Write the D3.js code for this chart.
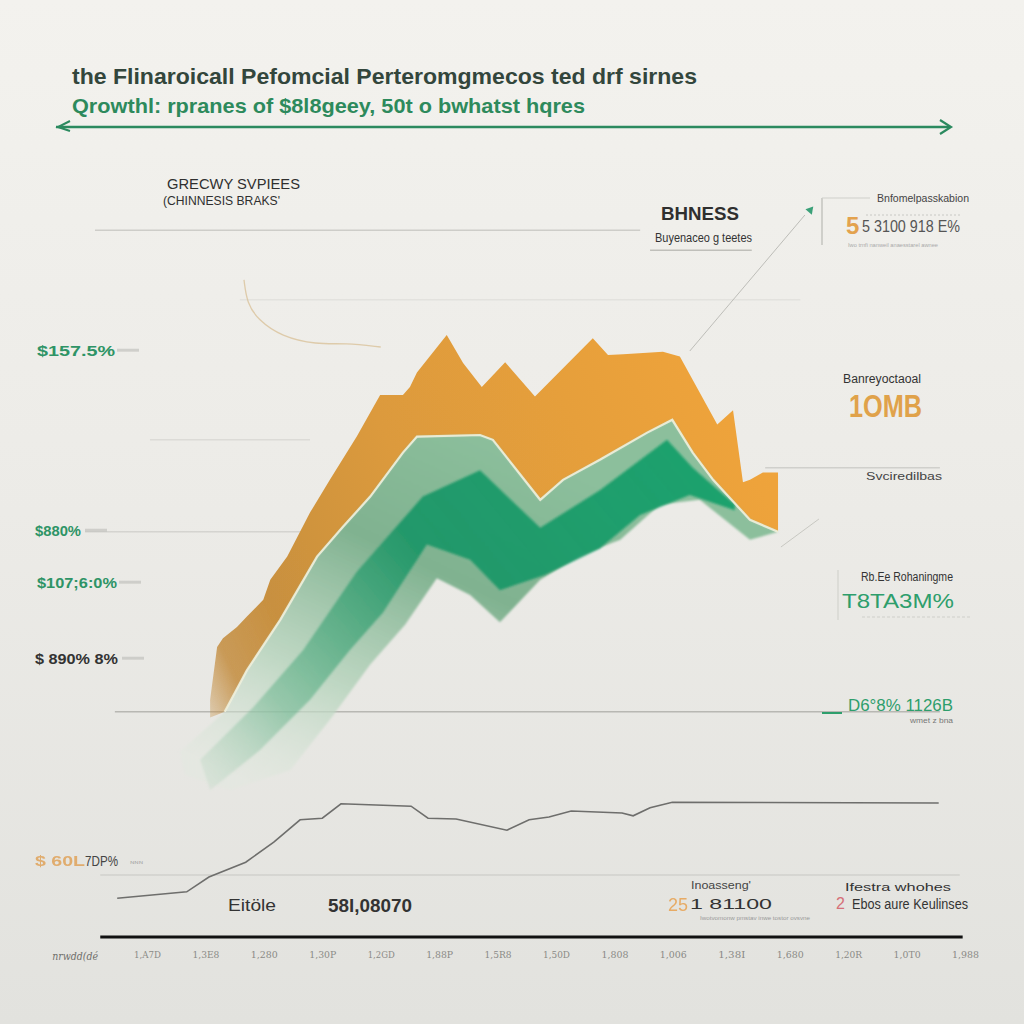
<!DOCTYPE html>
<html><head><meta charset="utf-8">
<script src="https://cdn.jsdelivr.net/npm/d3@7"></script>
<style>html,body{margin:0;padding:0;background:#eeede9;}svg{display:block;}</style>
</head><body>
<svg id="c" width="1024" height="1024"></svg>
<script>
// ---------- data (x: period units 0..140, y: value units 0..100) ----------
const xTickValues = [0,10,20,30,40,50,60,70,80,90,100,110,120,130,140];
const xTickLabels = ["1,A7D","1,3E8","1,280","1,30P","1,2GD","1,88P","1,5R8","1,50D","1,808","1,006","1,38I","1,680","1,20R","1,0T0","1,988"];

const orangeTop = [[10.8,29.4],[12.0,36.0],[13.0,37.1],[15.4,38.5],[17.1,39.8],[19.9,41.9],[21.1,44.4],[24.0,47.3],[27.9,52.8],[31.3,56.9],[35.9,62.3],[39.9,67.5],[43.8,67.5],[45.0,68.5],[46.2,70.3],[51.3,75.0],[54.1,71.5],[57.3,68.5],[61.3,71.6],[66.4,67.3],[76.3,74.6],[78.9,72.5],[81.5,72.6],[88.3,72.9],[91.2,72.3],[97.6,63.8],[100.3,65.6],[102.0,56.6],[103.2,56.9],[105.4,57.8],[108.0,57.8],[108.0,50.6]];
const greenTop = [[5.6,22.9],[13.3,27.9],[17.1,33.1],[22.8,39.4],[29.1,47.3],[33.5,51.0],[38.2,54.8],[43.8,60.3],[46.2,62.3],[57.0,62.5],[59.2,61.9],[67.3,54.4],[71.2,56.9],[77.5,59.4],[85.6,62.8],[89.9,64.4],[93.4,60.3],[96.9,56.9],[103.2,51.9],[108.0,50.4]];
const orangeBase = [[10.8,27.2]];
const greenBottom = [[6.5,20.0],[14.2,18.1],[24.5,20.6],[31.3,26.9],[38.2,33.8],[44.2,38.8],[49.6,44.6],[55.3,42.5],[60.4,39.1],[67.3,44.4],[74.1,47.5],[81.0,49.4],[87.8,53.8],[94.6,54.4],[103.2,49.4]];
const stripeTop = [[9.1,21.9],[18.1,28.4],[26.7,35.6],[35.9,45.4],[47.2,54.8],[57.0,58.1],[67.3,50.9],[77.5,55.6],[89.0,61.9],[93.4,58.4],[100.6,53.8]];
const stripeBottom = [[100.6,53.1],[92.9,55.0],[84.4,52.5],[77.5,48.3],[68.1,45.0],[60.4,43.1],[55.3,46.9],[47.9,48.8],[40.4,40.3],[34.7,35.6],[27.9,29.4],[19.3,23.1],[10.8,18.1]];
const grayLine = [[-5.1,4.6],[6.8,5.4],[10.6,7.25],[16.9,9.1],[21.7,11.6],[26.2,14.4],[30.0,14.6],[33.2,16.4],[45.2,16.1],[48.1,14.6],[52.9,14.5],[61.6,13.1],[65.4,14.4],[68.8,14.75],[72.6,15.5],[81.3,15.25],[83.2,14.9],[86.1,15.9],[89.9,16.6],[135.5,16.5]];
const squiggle = [[16.6,81.9],[17.1,79.0],[19.0,76.9],[23.0,74.8],[29.0,73.8],[34.0,74.0],[40.0,73.5]];
const pointerLine = [[92.9,73.0],[112.6,90.0]];

// grid lines: [value, fromX, toX, strength]
const gridLines = [[88.1,-8.9,84.4,0.35],[85.6,86.1,103.5,0.5],[79.4,15.9,111.8,0.12],[61.9,0.5,27.9,0.18],[50.4,-10.6,60.4,0.25],[58.4,105.8,135.7,0.3],[27.9,-5.5,135.7,0.55],[7.5,-8.0,139.1,0.22]];

// left value labels
const leftLabels = ["$157.5%","$880%","$107;6:0%","$ 890% 8%"];
const leftValues = [73.1,50.6,44.1,34.6];
const leftWidths = [78,46,80,83];

// ---------- setup ----------
const svg = d3.select("#c");
const x = d3.scaleLinear().domain([0,140]).range([147,965]);
const y = d3.scaleLinear().domain([0,100]).range([935,135]);
const defs = svg.append("defs");

function lg(id, x1,y1,x2,y2, stops, units){
  const g = defs.append("linearGradient").attr("id",id)
    .attr("x1",x1).attr("y1",y1).attr("x2",x2).attr("y2",y2);
  if(units) g.attr("gradientUnits",units);
  stops.forEach(s=>g.append("stop").attr("offset",s[0]).attr("stop-color",s[1]).attr("stop-opacity",s[2]===undefined?1:s[2]));
}
lg("bg","0","0","0","1",[[0,"#f3f2ee"],[0.5,"#ecebe7"],[1,"#e2e2de"]]);
lg("orangeG",x(8),y(28),x(108),y(62),[[0,"#c38c3e",0.15],[0.08,"#c38c3e",0.85],[0.18,"#c8903f"],[0.45,"#dc9a3c"],[1,"#f0a43a"]],"userSpaceOnUse");
lg("greenG",x(60),y(62),x(30),y(15),[[0,"#8cbf9c"],[0.35,"#80b290"],[0.7,"#b7d4bd",0.85],[1,"#dde8dc",0.3]],"userSpaceOnUse");
lg("stripeG",x(90),y(62),x(12),y(15),[[0,"#16a06b",0.95],[0.45,"#1a9566",0.9],[0.8,"#5fb086",0.5],[1,"#a8cfb2",0.15]],"userSpaceOnUse");
defs.append("filter").attr("id","soft").append("feGaussianBlur").attr("stdDeviation",1.2);
defs.append("filter").attr("id","soft2").append("feGaussianBlur").attr("stdDeviation",0.6);

svg.append("rect").attr("width",1024).attr("height",1024).attr("fill","url(#bg)");

// grid lines
svg.append("g").selectAll("line").data(gridLines).join("line")
  .attr("x1",d=>x(d[1])).attr("x2",d=>x(d[2])).attr("y1",d=>y(d[0])).attr("y2",d=>y(d[0]))
  .attr("stroke","#8f8f8a").attr("stroke-opacity",d=>d[3]).attr("stroke-width",1.5);

const line = d3.line().x(d=>x(d[0])).y(d=>y(d[1]));

// decorative faint lines
svg.append("path").attr("d",line.curve(d3.curveBasis)(squiggle)).attr("fill","none")
  .attr("stroke","#d9c29a").attr("stroke-width",1.3).attr("opacity",0.8);
line.curve(d3.curveLinear);
svg.append("path").attr("d",line(pointerLine)).attr("fill","none").attr("stroke","#bdbdb8").attr("stroke-width",1);
svg.append("path").attr("d",d3.symbol(d3.symbolTriangle,30)())
  .attr("transform",`translate(${x(113.5)},${y(90.6)}) rotate(40)`).attr("fill","#3aa078");

// ---------- areas ----------
const orangePoly = orangeTop.concat(greenTop.filter(d=>d[0]>12).reverse(), orangeBase);
svg.append("path").attr("d",line(orangePoly)+"Z").attr("fill","url(#orangeG)").attr("filter","url(#soft2)");

const greenPoly = greenTop.concat(greenBottom.slice().reverse());
svg.append("path").attr("d",line(greenPoly)+"Z").attr("fill","url(#greenG)").attr("filter","url(#soft)");

const stripePoly = stripeTop.concat(stripeBottom);
svg.append("path").attr("d",line(stripePoly)+"Z").attr("fill","url(#stripeG)").attr("filter","url(#soft)");

// light highlight line on green top
svg.append("path").attr("d",line(greenTop.slice(1))).attr("fill","none")
  .attr("stroke","#eef0dc").attr("stroke-width",2.2).attr("opacity",0.9);

// small faint connector right of orange
svg.append("path").attr("d",line([[108.5,48.5],[115,52]])).attr("stroke","#c8c8c2").attr("fill","none");

// gray line series
svg.append("path").attr("d",line(grayLine)).attr("fill","none")
  .attr("stroke","#6e6e6c").attr("stroke-width",1.6);

// baseline
svg.append("line").attr("x1",x(-8)).attr("x2",x(139.6)).attr("y1",y(0)+2).attr("y2",y(0)+2)
  .attr("stroke","#111").attr("stroke-width",3);

// x axis
const xAxis = d3.axisBottom(x).tickValues(xTickValues).tickFormat((d,i)=>xTickLabels[i]).tickSize(0).tickPadding(0);
const ax = svg.append("g").attr("transform",`translate(0,${y(0)+16})`).call(xAxis);
ax.select(".domain").remove();
ax.selectAll("text").attr("font-family","DejaVu Serif, serif").attr("font-size",10).attr("fill","#8a8a86")
  .attr("textLength",27).attr("lengthAdjust","spacingAndGlyphs");
svg.append("text").attr("x",x(-12.3)).attr("y",y(0)+25).attr("text-anchor","middle")
  .attr("font-family","DejaVu Serif, serif").attr("font-style","italic").attr("font-size",11).attr("fill","#6f6f6b")
  .attr("textLength",46).attr("lengthAdjust","spacingAndGlyphs").text("nrwdd(dé");

// ---------- text helper ----------
const F = "Liberation Sans, Arial, sans-serif";
function t(str, px, py, o){
  o = o||{};
  const e = svg.append("text").attr("x",px).attr("y",py).text(str)
    .attr("font-family",o.f||F).attr("font-size",o.s||12).attr("fill",o.c||"#333")
    .attr("font-weight",o.w||"normal");
  if(o.l) e.attr("textLength",o.l).attr("lengthAdjust","spacingAndGlyphs");
  if(o.op) e.attr("opacity",o.op);
  return e;
}

// title
t("the Flinaroicall  Pefomcial Perteromgmecos ted drf  sirnes",72,84,{s:22,w:"bold",c:"#33463c",l:625});
t("Qrowthl: rpranes of $8l8geey, 50t o bwhatst hqres",72,113,{s:21,w:"bold",c:"#2d8a5c",l:513});
// arrow line
svg.append("line").attr("x1",56).attr("x2",950).attr("y1",127).attr("y2",127).attr("stroke","#2b8a5f").attr("stroke-width",2.6);
svg.append("path").attr("d","M940,120 L951,127 L940,134").attr("fill","none").attr("stroke","#2b8a5f").attr("stroke-width",2.2);
svg.append("path").attr("d","M70,121 L58,127 L70,131").attr("fill","none").attr("stroke","#2b8a5f").attr("stroke-width",2);

t("GRECWY SVPIEES",167,189,{s:14,c:"#2f2f2f",l:133});
t("(CHINNESIS BRAKS'",163,205,{s:13,c:"#2f2f2f",l:117});

t("BHNESS",661,220,{s:18,w:"bold",c:"#2f2f2f",l:78});
t("Buyenaceo g teetes",655,242,{s:13,c:"#333",l:97});

// top-right box
svg.append("line").attr("x1",822).attr("x2",822).attr("y1",198).attr("y2",245).attr("stroke","#cfcfca").attr("stroke-width",2);
svg.append("line").attr("x1",822).attr("x2",870).attr("y1",198).attr("y2",198).attr("stroke","#cfcfca").attr("stroke-width",1);
t("Bnfomelpasskabion",877,202,{s:11,c:"#444",l:92});
t("5",846,234,{s:24,w:"bold",c:"#e3a24e"});
t("5 3100 918 E%",862,232,{s:16,c:"#555",l:98});
svg.append("line").attr("x1",866).attr("x2",960).attr("y1",215).attr("y2",215).attr("stroke","#c8c8c4").attr("stroke-width",1).attr("stroke-dasharray","2,2");
t("Iwo trnfi nanweil anaesstarel awnee",848,247,{s:6,c:"#aaa",l:90});

t("Banreyoctaoal",843,383,{s:12,c:"#333",l:78});
t("1OMB",849,417,{s:32,w:"bold",c:"#e0a24a",l:73,f:"Liberation Sans Narrow, Arial Narrow, sans-serif"});

t("Svciredilbas",866,480,{s:11,c:"#444",l:76});

svg.append("line").attr("x1",838).attr("x2",838).attr("y1",570).attr("y2",620).attr("stroke","#dcdcd7").attr("stroke-width",2);
t("Rb.Ee Rohaningme",861,581,{s:12,c:"#333",l:92});
t("T8TA3M%",842,608,{s:20,c:"#2e9e6c",l:112});
svg.append("line").attr("x1",862).attr("x2",972).attr("y1",617).attr("y2",617).attr("stroke","#cfcfca").attr("stroke-width",1).attr("stroke-dasharray","3,2");

svg.append("line").attr("x1",822).attr("x2",842).attr("y1",713).attr("y2",713).attr("stroke","#2e9e6c").attr("stroke-width",2);
t("D6°8%  1126B",848,711,{s:16,c:"#2e9e6c",l:105});
t("wmet z bna",910,723,{s:8,c:"#777",l:43});

// left labels
svg.append("g").selectAll("text").data(leftLabels).join("text")
  .attr("x",(d,i)=>i===1||i===3?35:37).attr("y",(d,i)=>y(leftValues[i])+6)
  .attr("font-family",F).attr("font-weight","bold").attr("font-size",15)
  .attr("fill",(d,i)=>i===3?"#333":"#2e9466")
  .attr("textLength",(d,i)=>leftWidths[i]).attr("lengthAdjust","spacingAndGlyphs").text(d=>d);
svg.append("g").selectAll("line").data(leftValues).join("line")
  .attr("x1",(d,i)=>37+leftWidths[i]+2).attr("x2",(d,i)=>37+leftWidths[i]+24)
  .attr("y1",d=>y(d)).attr("y2",d=>y(d)).attr("stroke","#bcbcb8").attr("stroke-width",3).attr("opacity",0.6);

t("$ 60L",35,866,{s:15,w:"bold",c:"#e0a35a",l:50,op:0.85});
t("7DP%",85,866,{s:15,c:"#444",l:33});
t("ɴɴɴ",130,864,{s:6,c:"#aaa",l:13});

// bottom texts
t("Eitöle",228,911,{s:17,c:"#333",l:48});
t("58l,08070",328,912,{s:18,w:"bold",c:"#333",l:84});
t("Inoasseng'",691,889,{s:10,c:"#444",l:60});
t("25",668,911,{s:19,c:"#e8a250",l:20,op:0.85});
t("1 81100",690,909,{s:15,c:"#333",l:82});
t("Iwotvomonw pmstav inwe tostor ovsvne",700,920,{s:6,c:"#999",l:110});
t("Ifestra whohes",845,891,{s:11,c:"#333",l:106});
t("2",836,909,{s:16,c:"#d66f78"});
t("Ebos aure Keulinses",852,909,{s:14,c:"#333",l:116});
</script>
</body></html>
